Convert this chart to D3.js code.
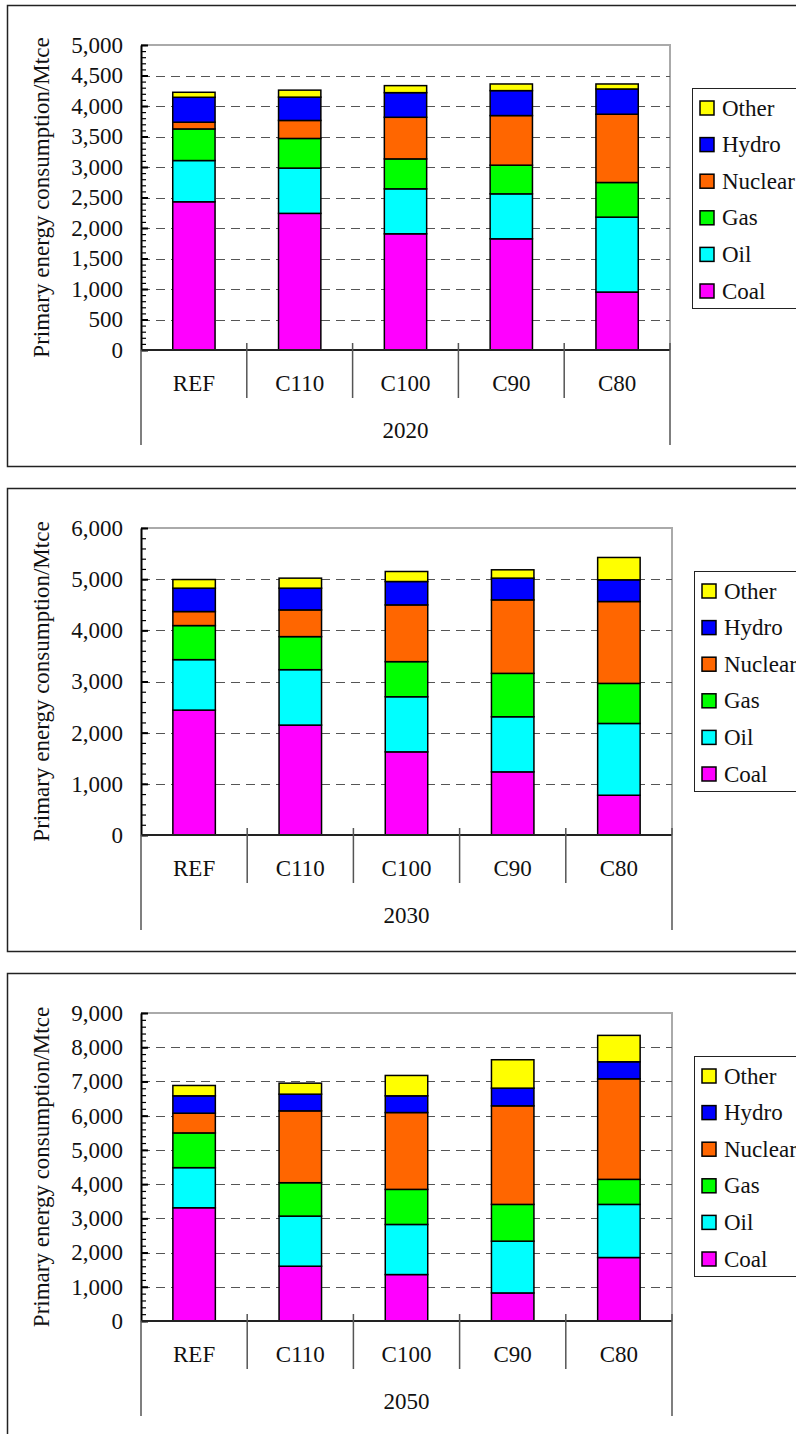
<!DOCTYPE html>
<html lang="en">
<head>
<meta charset="UTF-8">
<title>Primary energy consumption by scenario</title>
<script src="https://d3js.org/d3.v7.min.js"></script>
<style>
  body { margin: 0; background: #fff; }
  svg, svg text { font-family: "Liberation Serif", "Times New Roman", serif; }
</style>
</head>
<body>
<svg width="796" height="1434"></svg>
<script>
// data (Mtce), one row per year: 2020, 2030, 2050
const years = ["2020", "2030", "2050"];
const scenarios = ["REF", "C110", "C100", "C90", "C80"];
const sources = ["Coal", "Oil", "Gas", "Nuclear", "Hydro", "Other"];
const colors = ["#ff00ff", "#00ffff", "#00ff00", "#ff6600", "#0000ff", "#ffff00"];

const coal    = [[2430, 2240, 1905, 1823, 950], [2441, 2148, 1625, 1234, 777], [3309, 1601, 1357, 820, 1855]];
const oil     = [[676, 742, 737, 737, 1228], [986, 1083, 1077, 1077, 1403], [1172, 1464, 1464, 1513, 1552]];
const gas     = [[518, 486, 491, 470, 568], [666, 646, 686, 848, 783], [1015, 976, 1025, 1074, 732]];
const nuclear = [[110, 295, 682, 813, 1119], [274, 522, 1109, 1436, 1600], [576, 2099, 2245, 2880, 2938]];
const hydro   = [[409, 382, 404, 409, 414], [457, 425, 457, 425, 424], [508, 488, 489, 517, 498]];
const other   = [[82, 115, 115, 109, 82], [169, 196, 196, 163, 437], [302, 322, 595, 830, 771]];

const yMax = [5000, 6000, 9000];
const yStep = [500, 1000, 1000];

const series = [coal, oil, gas, nuclear, hydro, other];

// layout of the three panels
const plotTop = [45, 528, 1013];
const plotBottom = [350, 835, 1321];
const plotRight = [670, 672, 672];
const plotLeft = 141;
const fontSize = 23;
const serif = "'Liberation Serif', 'Times New Roman', serif";

const svg = d3.select("svg").attr("font-family", serif);
svg.append("rect").attr("width", 796).attr("height", 1434).attr("fill", "#fff");

years.forEach((year, yi) => {
  const top = plotTop[yi], bottom = plotBottom[yi], right = plotRight[yi];
  const g = svg.append("g");

  // outer frame
  g.append("rect")
    .attr("x", 7.5).attr("y", top - 39.5)
    .attr("width", 900).attr("height", bottom - top + 156)
    .attr("fill", "none").attr("stroke", "#222").attr("stroke-width", 1.5);

  const x = d3.scaleBand().domain(scenarios).range([plotLeft, right]).padding(0);
  const y = d3.scaleLinear().domain([0, yMax[yi]]).range([bottom, top]);

  // plot border (top / right grey)
  g.append("path")
    .attr("d", `M${plotLeft},${top}H${right}V${bottom}`)
    .attr("fill", "none").attr("stroke", "#aaa").attr("stroke-width", 2);

  // gridlines
  const majors = d3.range(yStep[yi], yMax[yi], yStep[yi]);
  g.selectAll(".grid").data(majors).enter().append("line")
    .attr("x1", plotLeft).attr("x2", right)
    .attr("y1", d => Math.round(y(d)) + 0.5).attr("y2", d => Math.round(y(d)) + 0.5)
    .attr("stroke", "#555").attr("stroke-width", 1.2)
    .attr("stroke-dasharray", "9,6");

  // stacked bars
  const rows = scenarios.map((s, si) => {
    const r = { scenario: s };
    sources.forEach((src, k) => { r[src] = series[k][yi][si]; });
    return r;
  });
  const stacked = d3.stack().keys(sources)(rows);
  const barW = x.bandwidth() * 0.4;
  g.selectAll(".layer").data(stacked).enter().append("g")
    .attr("fill", (d, i) => colors[i])
    .selectAll("rect").data(d => d).enter().append("rect")
    .attr("x", d => x(d.data.scenario) + (x.bandwidth() - barW) / 2)
    .attr("y", d => y(d[1]))
    .attr("width", barW)
    .attr("height", d => y(d[0]) - y(d[1]))
    .attr("stroke", "#000").attr("stroke-width", 1.5);

  // minor ticks
  g.append("g").attr("transform", `translate(${plotLeft},0)`)
    .call(d3.axisLeft(y).tickValues(d3.range(0, yMax[yi] + 1, yStep[yi] / 5))
      .tickSize(-5).tickSizeOuter(0).tickFormat(""))
    .call(a => a.select(".domain").remove())
    .call(a => a.selectAll("line").attr("stroke", "#000").attr("stroke-width", 1.2));

  // major ticks + labels
  g.append("g").attr("transform", `translate(${plotLeft},0)`)
    .call(d3.axisLeft(y).tickValues(d3.range(0, yMax[yi] + 1, yStep[yi]))
      .tickSize(-7).tickSizeOuter(0).tickPadding(18).tickFormat(d3.format(",")))
    .attr("font-family", serif).attr("font-size", fontSize)
    .call(a => a.select(".domain").attr("stroke", "#000").attr("stroke-width", 2))
    .call(a => a.selectAll("line").attr("stroke", "#000").attr("stroke-width", 2))
    .call(a => a.selectAll("text").attr("font-size", fontSize)
      .attr("font-family", serif).attr("fill", "#111"));

  // x axis line
  g.append("line").attr("x1", plotLeft).attr("x2", right)
    .attr("y1", bottom).attr("y2", bottom)
    .attr("stroke", "#222").attr("stroke-width", 2);

  // category dividers and outer lines
  g.selectAll(".div").data(scenarios.slice(1)).enter().append("line")
    .attr("x1", d => x(d)).attr("x2", d => x(d))
    .attr("y1", bottom - 7).attr("y2", bottom + 48)
    .attr("stroke", "#555").attr("stroke-width", 1.5);
  g.append("line").attr("x1", plotLeft).attr("x2", plotLeft)
    .attr("y1", bottom).attr("y2", bottom + 95)
    .attr("stroke", "#555").attr("stroke-width", 1.5);
  g.append("line").attr("x1", right).attr("x2", right)
    .attr("y1", bottom - 7).attr("y2", bottom + 95)
    .attr("stroke", "#555").attr("stroke-width", 1.5);

  // category labels
  g.selectAll(".cat").data(scenarios).enter().append("text")
    .attr("x", d => x(d) + x.bandwidth() / 2)
    .attr("y", bottom + 33)
    .attr("text-anchor", "middle").attr("dominant-baseline", "central")
    .attr("font-family", serif).attr("font-size", fontSize).attr("fill", "#111")
    .text(d => d);

  // year label
  g.append("text")
    .attr("x", (plotLeft + right) / 2).attr("y", bottom + 80)
    .attr("text-anchor", "middle").attr("dominant-baseline", "central")
    .attr("font-family", serif).attr("font-size", fontSize).attr("fill", "#111")
    .text(year);

  // y axis title
  g.append("text")
    .attr("transform", `translate(41,${(top + bottom) / 2}) rotate(-90)`)
    .attr("text-anchor", "middle").attr("dominant-baseline", "central")
    .attr("font-family", serif).attr("font-size", fontSize).attr("fill", "#111")
    .text("Primary energy consumption/Mtce");

  // legend
  const lgTop = top + 43;
  const lg = g.append("g");
  lg.append("rect")
    .attr("x", plotRight[yi] + 22.5).attr("y", lgTop + 0.5)
    .attr("width", 200).attr("height", 220)
    .attr("fill", "#fff").attr("stroke", "#222").attr("stroke-width", 1);
  const items = sources.slice().reverse();
  const item = lg.selectAll(".item").data(items).enter().append("g")
    .attr("transform", (d, i) => `translate(${plotRight[yi] + 30},${lgTop + 20 + i * 36.6})`);
  item.append("rect")
    .attr("x", 0).attr("y", -7).attr("width", 14).attr("height", 14)
    .attr("fill", d => colors[sources.indexOf(d)])
    .attr("stroke", "#000").attr("stroke-width", 1.5);
  item.append("text")
    .attr("x", 22).attr("y", 0)
    .attr("dominant-baseline", "central")
    .attr("font-family", serif).attr("font-size", fontSize).attr("fill", "#111")
    .text(d => d);
});
</script>
</body>
</html>
